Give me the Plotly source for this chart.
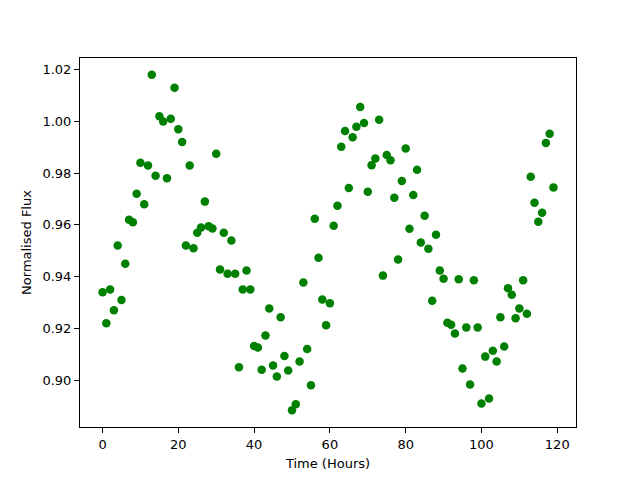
import plotly.graph_objects as go

hours = list(range(120))
flux = [
    0.934, 0.922, 0.935, 0.927, 0.952, 0.931, 0.945, 0.962, 0.961, 0.972,
    0.984, 0.968, 0.983, 1.018, 0.979, 1.002, 1.000, 0.978, 1.001, 1.013,
    0.997, 0.992, 0.952, 0.983, 0.951, 0.957, 0.959, 0.969, 0.9595, 0.9586,
    0.9875, 0.9428, 0.957, 0.9411, 0.954, 0.9411, 0.905, 0.935, 0.9424, 0.935,
    0.9132, 0.9126, 0.904, 0.9173, 0.9277, 0.9057, 0.9014, 0.9243, 0.9093, 0.9037,
    0.8884, 0.8907, 0.9072, 0.9377, 0.912, 0.898, 0.9624, 0.9473, 0.9312, 0.9212,
    0.9297, 0.9597, 0.9674, 0.9902, 0.9963, 0.9743, 0.9939, 0.9979, 1.0056, 0.9994,
    0.9728, 0.9831, 0.9857, 1.0006, 0.9404, 0.987, 0.985, 0.9705, 0.9466, 0.977,
    0.9895, 0.9585, 0.9716, 0.9813, 0.9532, 0.9635, 0.9508, 0.9307, 0.9562, 0.9424,
    0.9392, 0.9222, 0.9214, 0.918, 0.939, 0.9045, 0.9204, 0.8983, 0.9386, 0.9204,
    0.891, 0.9091, 0.8929, 0.9114, 0.9072, 0.9243, 0.913, 0.9355, 0.933, 0.9239,
    0.9277, 0.9386, 0.9257, 0.9786, 0.9686, 0.9612, 0.9647, 0.9917, 0.9952, 0.9745,
]
x_ticks = [0, 20, 40, 60, 80, 100, 120]
y_ticks = [0.90, 0.92, 0.94, 0.96, 0.98, 1.00, 1.02]

fig = go.Figure(go.Scatter(
    x=hours, y=flux, mode="markers",
    marker=dict(color="#008000", size=8.5, line=dict(width=0)),
))

font = dict(family="DejaVu Sans", size=13, color="black")
axis_common = dict(
    showgrid=False, zeroline=False, showline=True, linecolor="black", linewidth=1,
    mirror=True, ticks="outside", ticklen=5, tickwidth=1, tickcolor="black",
    tickfont=font, automargin=False,
)
# page body has an 8px default margin, so the figure is offset by 8px
fig.update_layout(
    width=632, height=472,
    margin=dict(l=72, r=64, t=50, b=53),
    paper_bgcolor="white", plot_bgcolor="white",
    showlegend=False, font=font,
    xaxis=dict(range=[-5.95, 124.95], tickvals=x_ticks,
               title=dict(text="Time (Hours)", font=font, standoff=8), **axis_common),
    yaxis=dict(range=[0.8819, 1.0245], tickvals=y_ticks, tickformat=".2f",
               title=dict(text="Normalised Flux", font=font, standoff=7), **axis_common),
)
fig.write_html("out.html")
